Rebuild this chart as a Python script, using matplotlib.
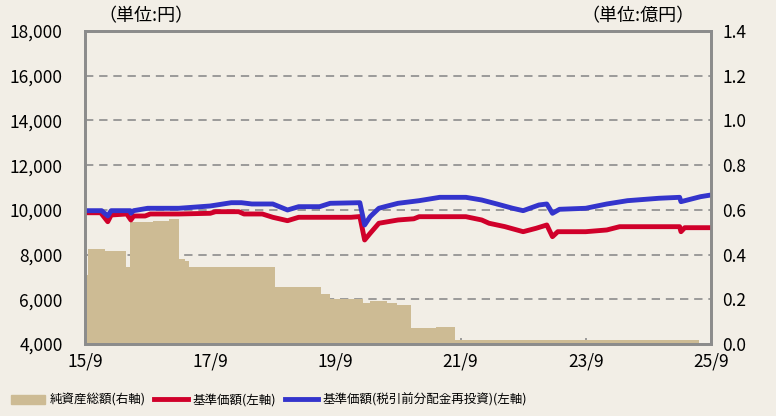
import pandas as pd
import matplotlib
matplotlib.use('Agg')
import matplotlib.pyplot as plt
from matplotlib.patches import Patch
from matplotlib.lines import Line2D

plt.rcParams['font.family'] = ['Noto Sans CJK JP', 'DejaVu Sans']

# 基準価額 (left axis, yen)
nav_dates = ['2015-09-30', '2015-12-31', '2016-02-10', '2016-03-01', '2016-05-31',
             '2016-06-24', '2016-07-10', '2016-09-15', '2016-10-15', '2017-03-31',
             '2017-09-30', '2017-10-31', '2018-03-15', '2018-04-15', '2018-07-31',
             '2018-09-30', '2018-12-25', '2019-02-28', '2019-12-31', '2020-02-20',
             '2020-03-19', '2020-04-20', '2020-06-10', '2020-09-30', '2020-12-31',
             '2021-01-31', '2021-10-31', '2022-01-31', '2022-03-15', '2022-06-15',
             '2022-09-30', '2022-12-15', '2023-02-15', '2023-03-20', '2023-04-20',
             '2023-09-30', '2024-01-31', '2024-04-15', '2025-03-31', '2025-04-08',
             '2025-04-30', '2025-09-30']
nav = [9870, 9870, 9470, 9770, 9815,
       9547, 9725, 9725, 9815, 9815,
       9846, 9918, 9918, 9815, 9815,
       9667, 9515, 9667, 9667, 9700,
       8652, 8950, 9400, 9547, 9600,
       9694, 9694, 9547, 9400, 9250,
       9023, 9176, 9323, 8800, 9023,
       9023, 9100, 9247, 9247, 9023,
       9202, 9202]

# 基準価額(税引前分配金再投資) (left axis, yen)
reinv_dates = ['2015-09-30', '2016-01-05', '2016-02-10', '2016-03-01', '2016-06-20',
               '2016-06-24', '2016-07-10', '2016-09-30', '2017-03-31', '2017-09-30',
               '2018-01-31', '2018-03-31', '2018-05-31', '2018-09-30', '2018-12-25',
               '2019-02-28', '2019-06-30', '2019-08-31', '2020-02-20', '2020-03-19',
               '2020-04-20', '2020-06-10', '2020-07-15', '2020-09-30', '2021-01-31',
               '2021-05-31', '2021-10-31', '2022-01-31', '2022-04-30', '2022-07-31',
               '2022-09-30', '2022-12-31', '2023-02-15', '2023-03-20', '2023-04-30',
               '2023-09-30', '2024-01-31', '2024-05-31', '2024-11-30', '2025-03-31',
               '2025-04-08', '2025-07-31', '2025-09-30']
reinv = [9963, 9963, 9725, 9963, 9963,
         9850, 9963, 10070, 10070, 10173,
         10320, 10320, 10262, 10262, 9994,
         10142, 10142, 10293, 10320, 9323,
         9694, 10070, 10142, 10293, 10410,
         10560, 10560, 10441, 10262, 10070,
         9963, 10217, 10262, 9846, 10025,
         10070, 10262, 10410, 10518, 10560,
         10366, 10589, 10665]

# 純資産総額 (right axis, 億円)
aum_dates = ['2015-09-30', '2015-10-15', '2016-01-25', '2016-05-25', '2016-06-18',
             '2016-10-31', '2017-01-31', '2017-03-31', '2017-05-05', '2017-05-28',
             '2018-10-12', '2019-07-10', '2019-08-30', '2020-03-10', '2020-04-20',
             '2020-07-30', '2020-09-25', '2020-12-15', '2021-05-12', '2021-08-28',
             '2025-07-25', '2025-09-30']
aum = [0.31, 0.425, 0.417, 0.346, 0.547,
       0.552, 0.560, 0.379, 0.37, 0.344,
       0.254, 0.224, 0.201, 0.182, 0.191,
       0.182, 0.174, 0.070, 0.077, 0.02,
       0.0, 0.0]

nav_dates = pd.to_datetime(nav_dates)
reinv_dates = pd.to_datetime(reinv_dates)
aum_dates = pd.to_datetime(aum_dates)

xticks = pd.to_datetime(['2015-09-30', '2017-09-30', '2019-09-30', '2021-09-30',
                         '2023-09-30', '2025-09-30'])
xlabels = ['15/9', '17/9', '19/9', '21/9', '23/9', '25/9']

bg = '#F2EEE6'
tan = '#CDBB94'
red = '#D0002A'
blue = '#3434CC'
gray = '#8C8C8C'

fig = plt.figure(figsize=(7.76, 4.16), dpi=100, facecolor=bg)
ax2 = fig.add_axes([0.1095, 0.1731, 0.8067, 0.7524])
ax = ax2.twinx()

# back axes: area + grid
ax2.set_facecolor(bg)
ax2.fill_between(aum_dates, aum, step='post', color=tan, lw=0)
ax2.set_ylim(0, 1.4)
ax2.set_yticks([i * 0.2 for i in range(8)])
ax2.grid(axis='y', color=gray, linestyle=(0, (5, 3.5)), linewidth=1.2)
ax2.set_axisbelow(True)
ax2.yaxis.tick_right()
ax2.yaxis.set_label_position('right')
ax2.set_yticklabels(['%.1f' % (i * 0.2) for i in range(8)])

# front axes: lines
ax.set_zorder(ax2.get_zorder() + 1)
ax.patch.set_visible(False)
ax.plot(nav_dates, nav, color=red, lw=3.5, solid_capstyle='butt')
ax.plot(reinv_dates, reinv, color=blue, lw=3.5, solid_capstyle='butt')
ax.set_ylim(4000, 18000)
ax.set_yticks(range(4000, 18001, 2000))
ax.set_yticklabels(['{:,}'.format(v) for v in range(4000, 18001, 2000)])
ax.yaxis.tick_left()

ax2.set_xlim(xticks[0], xticks[-1])
ax2.set_xticks(xticks)
ax2.set_xticklabels(xlabels)

for a in (ax, ax2):
    for s in a.spines.values():
        s.set_color(gray)
        s.set_linewidth(2)
ax.tick_params(axis='y', length=0, pad=16, labelsize=12.5)
ax2.tick_params(axis='y', length=0, pad=8, labelsize=12.5)
ax2.tick_params(axis='x', direction='in', length=4, width=1.2, color=gray, pad=6, labelsize=12.5)

fig.text(0.127, 0.962, '（単位:円）', fontsize=13, va='center', ha='left')
fig.text(0.895, 0.962, '（単位:億円）', fontsize=13, va='center', ha='right')

handles = [Patch(color=tan), Line2D([], [], color=red, lw=3.5),
           Line2D([], [], color=blue, lw=3.5)]
labels = ['純資産総額(右軸)', '基準価額(左軸)', '基準価額(税引前分配金再投資)(左軸)']
fig.legend(handles, labels, loc='lower left', bbox_to_anchor=(0.0, -0.005), ncol=3,
           frameon=False, fontsize=9, handlelength=2.7, handletextpad=0.35,
           columnspacing=0.7)

fig.savefig('out.png', dpi=100, facecolor=bg)
